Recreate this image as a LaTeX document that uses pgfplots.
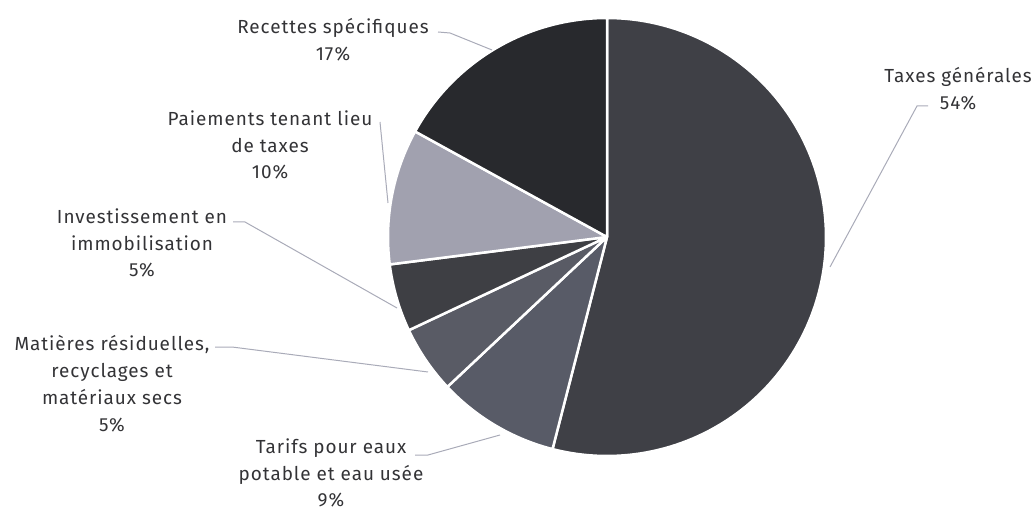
\documentclass[border=0pt]{standalone}
\usepackage{pgfplots}
\pgfplotsset{compat=1.18}
\usepackage{fontspec}
\setmainfont{Fira Sans}[LetterSpace=5]
\definecolor{cTax}{HTML}{3F4046}
\definecolor{cTar}{HTML}{585B67}
\definecolor{cMat}{HTML}{595B65}
\definecolor{cInv}{HTML}{3E3F44}
\definecolor{cPai}{HTML}{A1A1AF}
\definecolor{cRec}{HTML}{28292D}
\definecolor{txt}{HTML}{333336}
\definecolor{lead}{HTML}{A9ABB8}
\tikzset{lbl/.style={font=\fontsize{19}{27}\selectfont, text=txt, align=center, inner sep=0pt}}
% slice: colour, cumulative start %, cumulative end %
\newcommand{\slice}[3]{%
  \addplot[fill=#1, draw=white, line width=2.5bp, line join=round,
    domain={90-3.6*(#3)}:{90-3.6*(#2)}, samples=120]
    ({607+219*cos(x)},{277+219*sin(x)}) -- (axis cs:607,277) -- cycle;}
\begin{document}
\begin{tikzpicture}
\begin{axis}[hide axis, scale only axis, width=1033bp, height=514bp,
  xmin=0, xmax=1033, ymin=0, ymax=514, clip=false]
% values: 54, 9, 5, 5, 10, 17 (%), clockwise from top
\slice{cTax}{0}{54}
\slice{cTar}{54}{63}
\slice{cMat}{63}{68}
\slice{cInv}{68}{73}
\slice{cPai}{73}{83}
\slice{cRec}{83}{100}
% leader lines
\draw[lead, line width=1bp] (axis cs:830,247) -- (axis cs:917,408) -- (axis cs:928,408);
\draw[lead, line width=1bp] (axis cs:438,482) -- (axis cs:450,481) -- (axis cs:492,464);
\draw[lead, line width=1bp] (axis cs:380,392) -- (axis cs:388,311);
\draw[lead, line width=1bp] (axis cs:233,292) -- (axis cs:245,292) -- (axis cs:397,206);
\draw[lead, line width=1bp] (axis cs:215,167) -- (axis cs:232,167) -- (axis cs:428,142);
\draw[lead, line width=1bp] (axis cs:415,59) -- (axis cs:428,59) -- (axis cs:500,79);
% labels
\node[lbl] at (axis cs:958,425) {Taxes générales\\54\%};
\node[lbl] at (axis cs:333,474) {Recettes spécifiques\\17\%};
\node[lbl] at (axis cs:270,369) {Paiements tenant lieu\\de taxes\\10\%};
\node[lbl] at (axis cs:142,271) {Investissement en\\immobilisation\\5\%};
\node[lbl] at (axis cs:112,130) {Matières résiduelles,\\recyclages et\\matériaux secs\\5\%};
\node[lbl] at (axis cs:331,41) {Tarifs pour eaux\\potable et eau usée\\9\%};
\end{axis}
\pgfresetboundingbox
\path (current axis.south west) rectangle (current axis.north east);
\end{tikzpicture}
\end{document}
